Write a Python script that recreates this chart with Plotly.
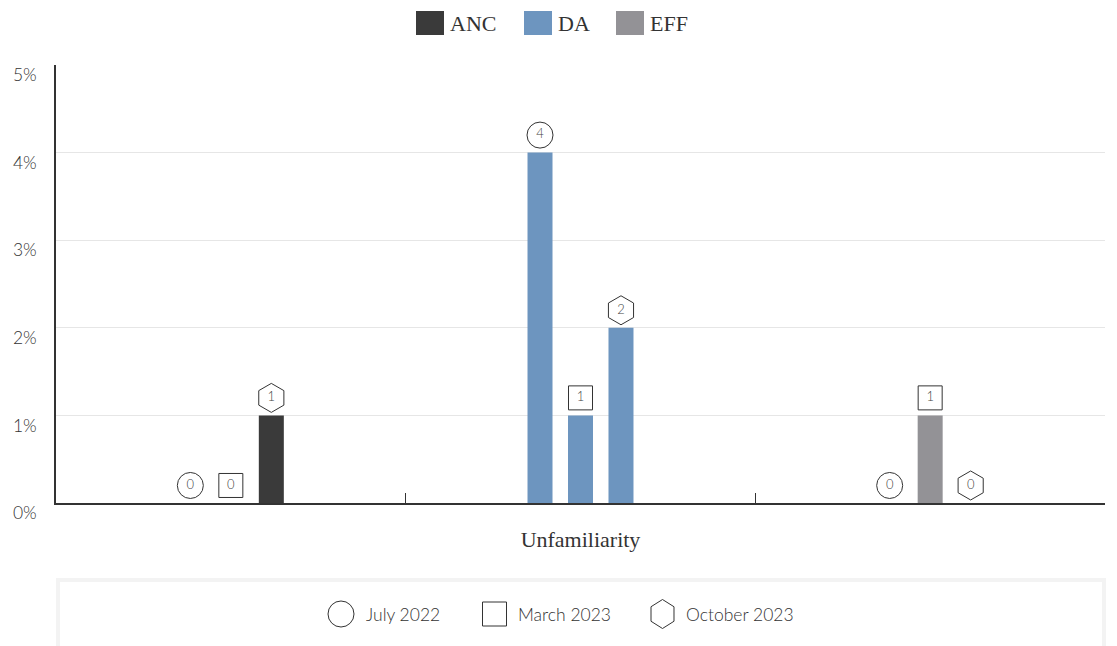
import plotly.graph_objects as go

# chart data
parties = ["ANC", "DA", "EFF"]
party_colors = ["#3a3a3a", "#6d95bf", "#939296"]
surveys = ["July 2022", "March 2023", "October 2023"]
july_2022 = [0, 4, 0]
march_2023 = [0, 1, 1]
october_2023 = [1, 2, 0]
y_ticks = [0, 1, 2, 3, 4, 5]
axis_title = "Unfamiliarity"

survey_values = [july_2022, march_2023, october_2023]
survey_symbols = ["circle-open", "square-open", "hexagon-open"]
survey_sizes = [26, 24, 29]
survey_offsets = [-0.1158, 0.0, 0.1158]

SERIF = "Liberation Serif"
SANS = "Lato"
# the page body has an 8px margin, so the figure is drawn 8px smaller
OFF = 8
W, H = 1117 - OFF, 646 - OFF
L, R, T, B = 56 - OFF, 12, 65 - OFF, 143
PW, PH = W - L - R, H - T - B


# positions given in window pixels -> paper fractions
def fx(px):
    return (px - OFF - L) / PW


def fy(py):
    return (H - B - (py - OFF)) / PH


fig = go.Figure()

# bars, one trace per party
for i, party in enumerate(parties):
    fig.add_trace(go.Bar(
        x=[i + off for off in survey_offsets],
        y=[vals[i] for vals in survey_values],
        width=0.0715,
        marker=dict(color=party_colors[i], line=dict(width=0)),
        name=party,
        showlegend=False,
    ))

# value badges, one trace per survey
for s, name in enumerate(surveys):
    vals = survey_values[s]
    fig.add_trace(go.Scatter(
        x=[i + survey_offsets[s] for i in range(len(parties))],
        y=[v + 0.2 for v in vals],
        mode="markers+text",
        text=[str(v) for v in vals],
        textposition="middle center",
        textfont=dict(family=SANS, size=13, color="#444", weight=300),
        marker=dict(symbol=survey_symbols[s], size=survey_sizes[s],
                    color="#333", line=dict(width=1, color="#333")),
        name=name,
        showlegend=False,
        cliponaxis=False,
    ))

shapes = []
annotations = []

# top legend (parties)
sq_left = [416, 524, 616]
txt_left = [448, 556, 648]
for i, party in enumerate(parties):
    shapes.append(dict(type="rect", xref="paper", yref="paper",
                       x0=fx(sq_left[i]), x1=fx(sq_left[i] + 28),
                       y0=fy(35), y1=fy(11),
                       fillcolor=party_colors[i], line=dict(width=0)))
    annotations.append(dict(text=party, xref="paper", yref="paper",
                            x=fx(txt_left[i]), y=fy(23), xanchor="left", yanchor="middle",
                            showarrow=False,
                            font=dict(family=SERIF, size=22, color="#333")))

# bottom legend box (surveys)
shapes.append(dict(type="rect", xref="paper", yref="paper",
                   x0=fx(58), x1=fx(1104), y0=fy(580), y1=fy(670),
                   line=dict(color="#f3f3f3", width=4), fillcolor="rgba(0,0,0,0)"))
sym_cx = [341, 494.5, 662.5]
leg_txt_left = [364, 516, 684]
cy = 614
shapes.append(dict(type="circle", xref="paper", yref="paper",
                   x0=fx(sym_cx[0] - 13), x1=fx(sym_cx[0] + 13),
                   y0=fy(cy + 13), y1=fy(cy - 13),
                   line=dict(color="#333", width=1)))
shapes.append(dict(type="rect", xref="paper", yref="paper",
                   x0=fx(sym_cx[1] - 12), x1=fx(sym_cx[1] + 12),
                   y0=fy(cy + 12), y1=fy(cy - 12),
                   line=dict(color="#333", width=1)))
hx, hw, hh = sym_cx[2], 11.5, 14.5
hex_pts = [(hx, cy - hh), (hx + hw, cy - hh / 2), (hx + hw, cy + hh / 2),
           (hx, cy + hh), (hx - hw, cy + hh / 2), (hx - hw, cy - hh / 2)]
path = "M " + " L ".join(f"{fx(px):.5f},{fy(py):.5f}" for px, py in hex_pts) + " Z"
shapes.append(dict(type="path", xref="paper", yref="paper", path=path,
                   line=dict(color="#333", width=1)))
for s, name in enumerate(surveys):
    annotations.append(dict(text=name, xref="paper", yref="paper",
                            x=fx(leg_txt_left[s]), y=fy(cy), xanchor="left", yanchor="middle",
                            showarrow=False,
                            font=dict(family=SANS, size=17.5, color="#333", weight=300)))

fig.update_layout(
    width=W, height=H,
    margin=dict(l=L, r=R, t=T, b=B),
    plot_bgcolor="white", paper_bgcolor="white",
    shapes=shapes, annotations=annotations,
    showlegend=False,
)

fig.update_xaxes(
    range=[-0.5, len(parties) - 0.5],
    tickvals=[k - 0.5 for k in range(len(parties) + 1)],
    showticklabels=False,
    ticks="inside", ticklen=10, tickcolor="#333", tickwidth=1,
    showgrid=False, zeroline=False, automargin=False,
    showline=True, linecolor="#333", linewidth=2,
    title=dict(text=axis_title, font=dict(family=SERIF, size=22, color="#333"), standoff=28),
)
fig.update_yaxes(
    range=[0, 5],
    tickvals=y_ticks,
    ticktext=[f"{v}%" for v in y_ticks],
    tickfont=dict(family=SANS, size=17.5, color="#333", weight=300),
    ticklabelshift=10, ticklabelstandoff=14,
    showgrid=True, gridcolor="#e6e6e6", gridwidth=1,
    zeroline=False, automargin=False,
    showline=True, linecolor="#333", linewidth=1.5,
)

fig.write_html("out.html")
